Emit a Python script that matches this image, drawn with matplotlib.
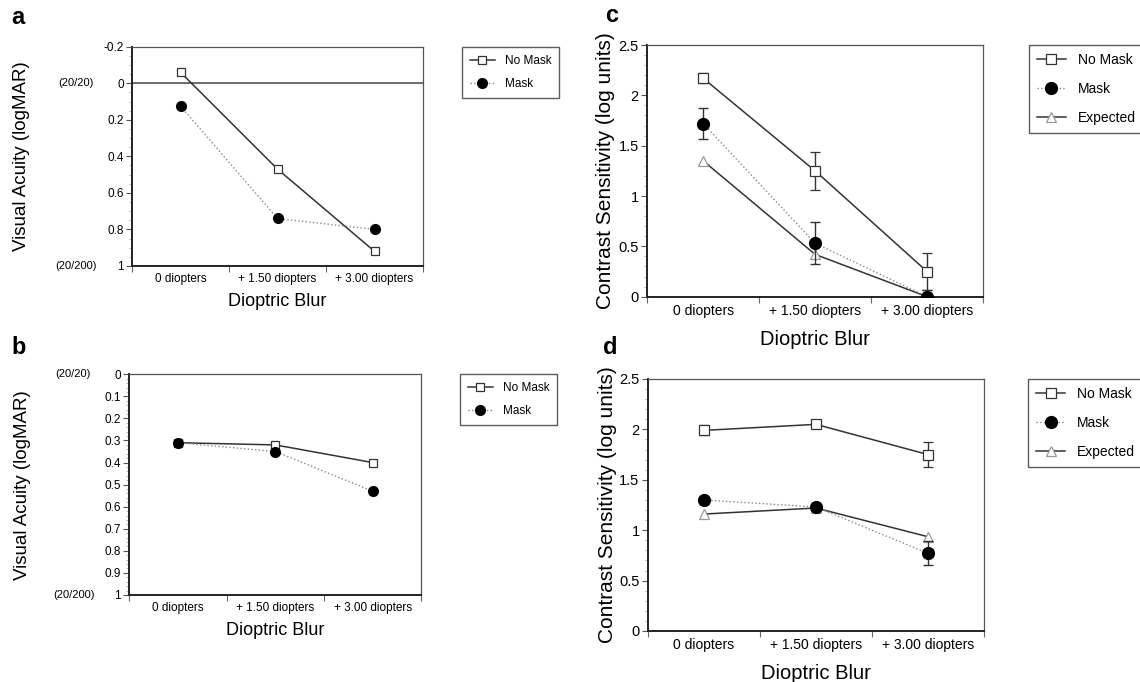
import numpy as np
import matplotlib
matplotlib.use("Agg")
import matplotlib.pyplot as plt
from matplotlib.ticker import MultipleLocator

plt.rcParams['font.family'] = ['Liberation Sans', 'DejaVu Sans']

# Data
categories = ['0 diopters', '+ 1.50 diopters', '+ 3.00 diopters']

# a: visual acuity
va_a_nomask = [-0.06, 0.47, 0.92]
va_a_mask = [0.125, 0.74, 0.80]

# b: visual acuity
va_b_nomask = [0.31, 0.32, 0.40]
va_b_mask = [0.31, 0.35, 0.53]

# c: contrast sensitivity
cs_c_nomask = [2.17, 1.25, 0.25]
cs_c_nomask_err = [0.05, 0.19, 0.18]
cs_c_mask = [1.72, 0.53, 0.0]
cs_c_mask_err = [0.15, 0.21, 0.07]
cs_c_expected = [1.35, 0.42, 0.0]

# d: contrast sensitivity
cs_d_nomask = [1.99, 2.05, 1.75]
cs_d_nomask_err = [0.05, 0.03, 0.12]
cs_d_mask = [1.30, 1.23, 0.77]
cs_d_mask_err = [0.02, 0.02, 0.12]
cs_d_expected = [1.16, 1.22, 0.935]

x = np.arange(len(categories)) + 0.5

fig = plt.figure(figsize=(11.4, 6.82), dpi=100)

dark = '#333333'
mid = '#888888'


def style_axes(ax, fs_tick, fs_ytick, fs_xlabel, xpad):
    ax.set_xlim(0, 3)
    ax.set_xticks([0, 1, 2, 3])
    ax.set_xticklabels([])
    ax.set_xticks(x, minor=True)
    ax.set_xticklabels(categories, minor=True, fontsize=fs_tick)
    ax.tick_params(axis='x', which='minor', length=0, pad=5)
    ax.tick_params(axis='x', which='major', length=4, color='#666666')
    ax.tick_params(axis='y', which='major', length=4, color='#555555', labelsize=fs_ytick, pad=2)
    ax.tick_params(axis='y', which='minor', length=2.5, color='#aaaaaa')
    for s in ['left', 'bottom']:
        ax.spines[s].set_linewidth(1.4)
        ax.spines[s].set_color('#222222')
    for s in ['top', 'right']:
        ax.spines[s].set_linewidth(0.9)
        ax.spines[s].set_color('#555555')
    ax.set_xlabel('Dioptric Blur', fontsize=fs_xlabel, labelpad=xpad)


def va_panel(rect, nomask, mask, ylim, major, minor, legend_pos, ylab_x):
    ax = fig.add_axes(rect)
    ax.plot(x, nomask, color=dark, lw=1.1, marker='s', ms=6.3, mfc='white', mec=dark, mew=0.9,
            label='No Mask', zorder=3)
    ax.plot(x, mask, color=mid, lw=1.0, ls=':', marker='o', ms=7, mfc='black', mec='black',
            label='Mask', zorder=4)
    ax.set_ylim(*ylim)
    ax.yaxis.set_major_locator(MultipleLocator(major))
    ax.yaxis.set_minor_locator(MultipleLocator(minor))
    ax.yaxis.set_major_formatter(plt.FuncFormatter(lambda v, p: f'{v:g}' if abs(v) > 1e-9 else '0'))
    style_axes(ax, 8.5, 8.5, 13, 6)
    ax.set_ylabel('Visual Acuity (logMAR)', fontsize=13.5)
    ax.yaxis.set_label_coords(ylab_x, 0.5)
    ax.text(-0.133, 0, '(20/20)', transform=ax.get_yaxis_transform(), ha='right', va='center', fontsize=8)
    ax.text(-0.12, 1, '(20/200)', transform=ax.get_yaxis_transform(), ha='right', va='center', fontsize=8)
    leg = ax.legend(loc='upper left', bbox_to_anchor=legend_pos, bbox_transform=fig.transFigure,
                    fontsize=8.5, frameon=True, fancybox=False, edgecolor='#333333', borderaxespad=0,
                    handlelength=2.1, handletextpad=0.9, labelspacing=0.95, borderpad=0.65)
    leg.get_frame().set_linewidth(1.0)
    return ax


def cs_panel(rect, nomask, nomask_err, mask, mask_err, expected, legend_pos, ylab_x):
    ax = fig.add_axes(rect)
    e1 = ax.errorbar(x, nomask, yerr=nomask_err, color=dark, lw=1.1, marker='s', ms=6.5, mfc='white',
                     mec=dark, mew=0.9, capsize=3.3, elinewidth=1.0, zorder=3)
    e2 = ax.errorbar(x, mask, yerr=mask_err, color=mid, lw=1.0, ls=':', marker='o', ms=8.5, mfc='black',
                     mec='black', capsize=3.3, ecolor=dark, elinewidth=1.0, zorder=4)
    l3, = ax.plot(x, expected, color=dark, lw=1.1, marker='^', ms=7, mfc='white', mec='#999999',
                  mew=0.9, zorder=2)
    ax.set_ylim(0, 2.5)
    ax.yaxis.set_major_locator(MultipleLocator(0.5))
    ax.yaxis.set_minor_locator(MultipleLocator(0.1))
    ax.yaxis.set_major_formatter(plt.FuncFormatter(lambda v, p: f'{v:g}'))
    style_axes(ax, 10, 10.5, 14.5, 9)
    ax.set_ylabel('Contrast Sensitivity (log units)', fontsize=15)
    ax.yaxis.set_label_coords(ylab_x, 0.5)
    leg = ax.legend([e1[0], e2[0], l3], ['No Mask', 'Mask', 'Expected'], loc='upper left',
                    bbox_to_anchor=legend_pos, bbox_transform=fig.transFigure, fontsize=10,
                    frameon=True, fancybox=False, edgecolor='#333333', borderaxespad=0,
                    handlelength=2.1, handletextpad=0.85, labelspacing=1.1, borderpad=0.55)
    leg.get_frame().set_linewidth(1.0)
    return ax


ax_a = va_panel([0.1158, 0.6100, 0.2553, 0.3215], va_a_nomask, va_a_mask, (1, -0.2), 0.2, 0.05,
                (0.4053, 0.9311), -0.35)
ax_a.axhline(0, color='#444444', lw=1.1, zorder=1)

ax_b = va_panel([0.1135, 0.1276, 0.2561, 0.3236], va_b_nomask, va_b_mask, (1, 0), 0.1, 0.02,
                (0.4036, 0.4512), -0.337)

ax_c = cs_panel([0.5677, 0.5650, 0.2946, 0.3690], cs_c_nomask, cs_c_nomask_err, cs_c_mask,
                cs_c_mask_err, cs_c_expected, (0.9026, 0.934), -0.095)
ax_d = cs_panel([0.5683, 0.0748, 0.2949, 0.3695], cs_d_nomask, cs_d_nomask_err, cs_d_mask,
                cs_d_mask_err, cs_d_expected, (0.9021, 0.4443), -0.092)

for lab, px, py in [('a', 0.010, 0.975), ('b', 0.010, 0.49), ('c', 0.531, 0.978), ('d', 0.529, 0.49)]:
    fig.text(px, py, lab, fontsize=17, fontweight='bold', ha='left', va='center')

fig.savefig('out.png', dpi=100)
